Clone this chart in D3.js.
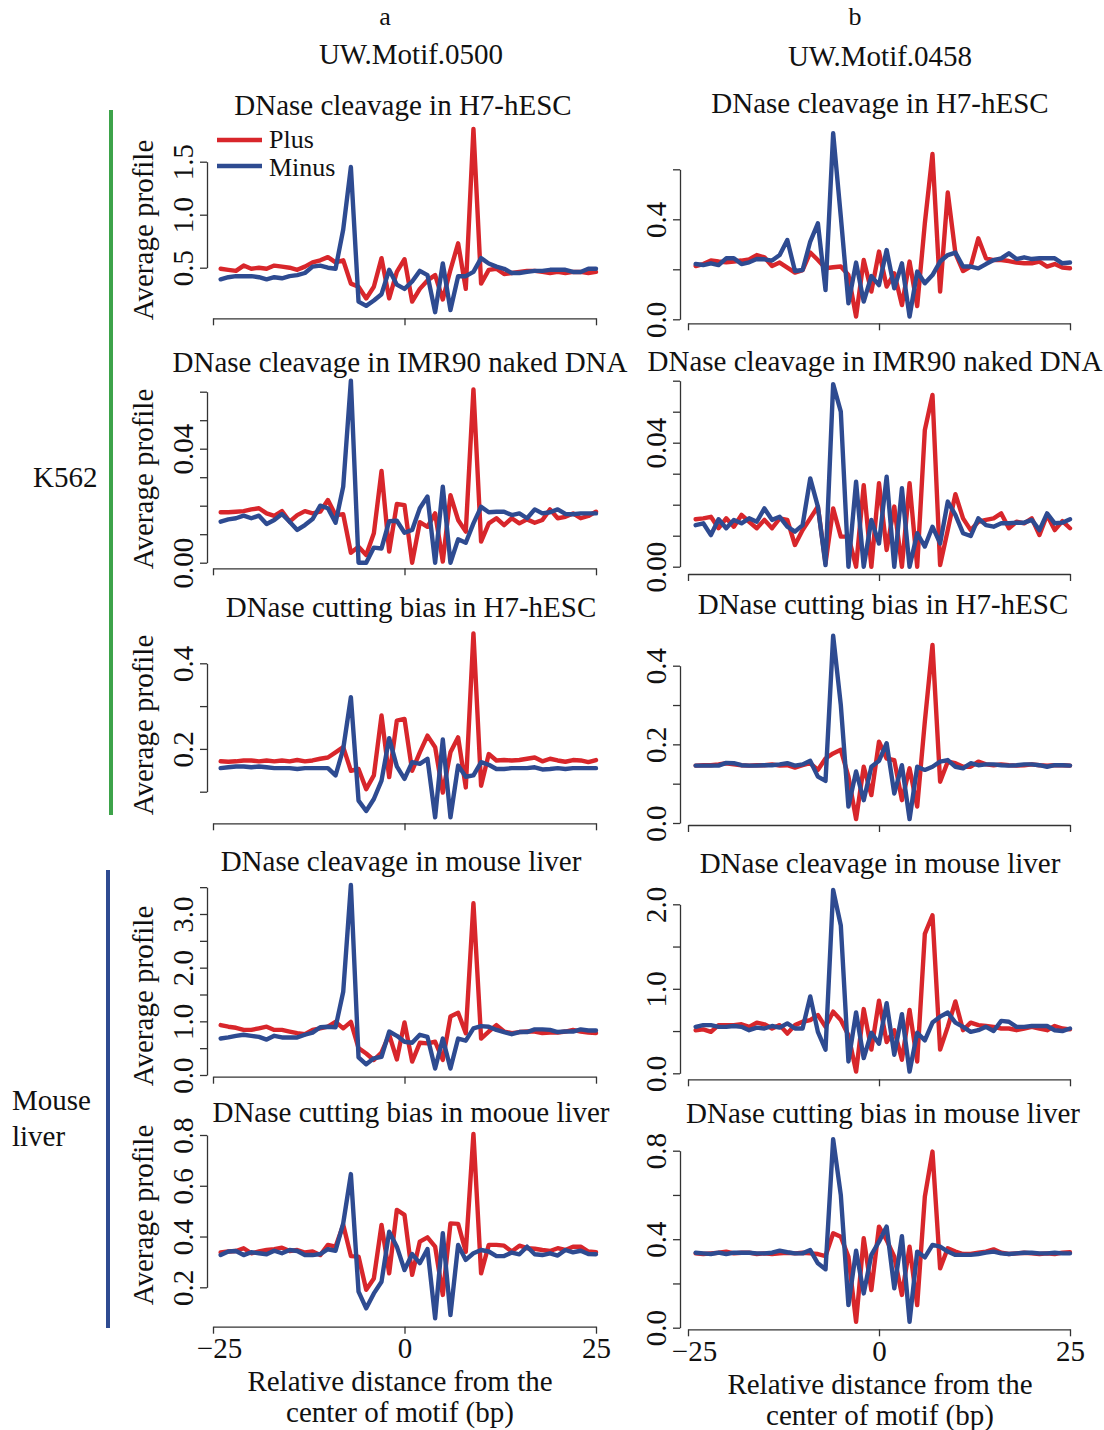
<!DOCTYPE html>
<html><head><meta charset="utf-8">
<script src="https://cdn.jsdelivr.net/npm/d3@7"></script>
<style>body{margin:0;background:#fff}svg text{font-family:"Liberation Serif","Times New Roman",serif;fill:#111}</style>
</head><body><svg id="c" width="1104" height="1430"></svg>
<script>
// x positions (bp from motif centre)
const positions = [-24,-23,-22,-21,-20,-19,-18,-17,-16,-15,-14,-13,-12,-11,-10,-9,-8,-7,-6,-5,-4,-3,-2,-1,0,1,2,3,4,5,6,7,8,9,10,11,12,13,14,15,16,17,18,19,20,21,22,23,24,25];

// Column a (UW.Motif.0500)
const plusA1 = [0.49,0.48,0.47,0.52,0.49,0.50,0.49,0.52,0.51,0.50,0.48,0.51,0.55,0.57,0.60,0.55,0.57,0.35,0.32,0.21,0.32,0.59,0.21,0.46,0.58,0.18,0.30,0.38,0.43,0.20,0.48,0.73,0.30,1.81,0.35,0.48,0.49,0.44,0.45,0.46,0.47,0.47,0.46,0.45,0.46,0.45,0.46,0.46,0.45,0.46];
const minusA1 = [0.39,0.41,0.42,0.42,0.42,0.41,0.39,0.41,0.40,0.42,0.43,0.45,0.51,0.52,0.50,0.49,0.86,1.45,0.18,0.14,0.19,0.25,0.48,0.34,0.30,0.37,0.47,0.43,0.08,0.54,0.10,0.42,0.42,0.46,0.59,0.54,0.51,0.49,0.45,0.45,0.46,0.47,0.47,0.48,0.48,0.48,0.46,0.46,0.49,0.49];
const plusA2 = [0.0177,0.0177,0.0179,0.0181,0.0187,0.0191,0.0173,0.0164,0.0181,0.0144,0.0167,0.0181,0.0173,0.0179,0.0220,0.0167,0.0170,0.0035,0.0056,0.0027,0.0103,0.0322,0.0039,0.0206,0.0202,0.0000,0.0142,0.0126,0.0173,0.0004,0.0237,0.0150,0.0109,0.0608,0.0074,0.0138,0.0156,0.0132,0.0156,0.0138,0.0152,0.0140,0.0150,0.0187,0.0156,0.0161,0.0173,0.0156,0.0164,0.0179];
const minusA2 = [0.0144,0.0152,0.0156,0.0165,0.0156,0.0165,0.0136,0.0150,0.0171,0.0144,0.0115,0.0132,0.0153,0.0200,0.0191,0.0140,0.0267,0.0639,0.0000,0.0000,0.0053,0.0050,0.0146,0.0147,0.0105,0.0115,0.0191,0.0232,0.0000,0.0267,0.0000,0.0082,0.0070,0.0138,0.0196,0.0177,0.0179,0.0179,0.0167,0.0173,0.0156,0.0187,0.0173,0.0177,0.0187,0.0171,0.0170,0.0173,0.0173,0.0173];
const plusA3 = [0.171,0.170,0.171,0.173,0.173,0.171,0.173,0.171,0.173,0.171,0.174,0.171,0.173,0.177,0.180,0.192,0.204,0.149,0.153,0.106,0.138,0.278,0.134,0.266,0.270,0.149,0.192,0.231,0.204,0.098,0.192,0.227,0.110,0.470,0.114,0.188,0.173,0.174,0.173,0.174,0.177,0.180,0.171,0.177,0.173,0.170,0.174,0.173,0.169,0.174];
const minusA3 = [0.155,0.157,0.159,0.159,0.157,0.159,0.157,0.155,0.155,0.155,0.153,0.155,0.155,0.155,0.155,0.138,0.200,0.321,0.079,0.055,0.083,0.126,0.225,0.159,0.130,0.169,0.165,0.177,0.040,0.222,0.040,0.161,0.135,0.138,0.169,0.163,0.153,0.153,0.155,0.155,0.155,0.157,0.152,0.153,0.155,0.153,0.155,0.155,0.155,0.155];
const plusA4 = [0.93,0.90,0.88,0.84,0.84,0.87,0.90,0.84,0.84,0.81,0.78,0.76,0.84,0.87,0.90,0.99,0.87,0.99,0.50,0.40,0.28,0.42,0.75,0.29,0.98,0.25,0.60,0.59,0.62,0.28,1.09,1.16,0.78,3.20,0.68,0.81,0.93,0.81,0.78,0.80,0.81,0.81,0.78,0.79,0.79,0.81,0.84,0.81,0.79,0.78];
const minusA4 = [0.68,0.70,0.73,0.75,0.73,0.71,0.66,0.73,0.70,0.70,0.70,0.75,0.79,0.89,0.90,0.89,1.55,3.54,0.33,0.20,0.31,0.34,0.81,0.73,0.62,0.60,0.75,0.71,0.12,0.68,0.12,0.68,0.64,0.87,0.91,0.90,0.84,0.80,0.76,0.80,0.80,0.85,0.85,0.84,0.80,0.81,0.81,0.85,0.83,0.83];
const plusA5 = [0.337,0.341,0.343,0.354,0.334,0.341,0.347,0.350,0.356,0.343,0.347,0.337,0.341,0.327,0.367,0.360,0.446,0.323,0.321,0.190,0.235,0.446,0.255,0.505,0.485,0.249,0.380,0.397,0.360,0.170,0.452,0.450,0.340,0.804,0.255,0.367,0.367,0.364,0.341,0.364,0.354,0.352,0.347,0.343,0.354,0.347,0.360,0.360,0.341,0.338];
const minusA5 = [0.327,0.341,0.343,0.327,0.338,0.334,0.330,0.344,0.334,0.347,0.343,0.327,0.327,0.331,0.350,0.344,0.452,0.646,0.183,0.117,0.176,0.222,0.419,0.360,0.268,0.331,0.295,0.351,0.078,0.413,0.091,0.367,0.308,0.334,0.347,0.341,0.323,0.323,0.337,0.330,0.360,0.330,0.327,0.334,0.325,0.347,0.338,0.344,0.331,0.330];

// Column b (UW.Motif.0458)
const plusB1 = [0.213,0.221,0.235,0.231,0.228,0.231,0.235,0.240,0.257,0.248,0.213,0.227,0.207,0.187,0.197,0.267,0.237,0.204,0.208,0.211,0.177,0.011,0.237,0.111,0.271,0.131,0.184,0.057,0.231,0.053,0.384,0.661,0.111,0.507,0.264,0.193,0.211,0.324,0.244,0.237,0.237,0.233,0.227,0.224,0.224,0.231,0.211,0.221,0.207,0.204];
const minusB1 = [0.221,0.217,0.224,0.217,0.244,0.244,0.221,0.228,0.241,0.240,0.235,0.257,0.317,0.193,0.197,0.311,0.384,0.117,0.744,0.411,0.064,0.227,0.071,0.173,0.137,0.277,0.124,0.224,0.011,0.191,0.144,0.177,0.231,0.257,0.267,0.211,0.211,0.204,0.221,0.237,0.244,0.264,0.241,0.248,0.241,0.244,0.244,0.244,0.224,0.227];
const plusB2 = [0.0153,0.0156,0.0161,0.0124,0.0156,0.0129,0.0167,0.0145,0.0124,0.0151,0.0124,0.0156,0.0151,0.0070,0.0118,0.0156,0.0194,0.0011,0.0188,0.0097,0.0097,0.0000,0.0263,0.0000,0.0269,0.0054,0.0194,0.0000,0.0269,0.0000,0.0441,0.0554,0.0005,0.0118,0.0234,0.0156,0.0118,0.0145,0.0151,0.0156,0.0172,0.0124,0.0145,0.0140,0.0156,0.0102,0.0167,0.0118,0.0147,0.0124];
const minusB2 = [0.0134,0.0140,0.0102,0.0153,0.0124,0.0151,0.0140,0.0156,0.0145,0.0188,0.0151,0.0161,0.0129,0.0113,0.0134,0.0285,0.0194,0.0005,0.0589,0.0500,0.0000,0.0274,0.0000,0.0151,0.0075,0.0290,0.0000,0.0253,0.0000,0.0108,0.0065,0.0129,0.0075,0.0210,0.0167,0.0108,0.0099,0.0156,0.0134,0.0129,0.0140,0.0140,0.0142,0.0142,0.0151,0.0118,0.0172,0.0140,0.0142,0.0153];
const plusB3 = [0.146,0.147,0.147,0.149,0.152,0.149,0.147,0.146,0.147,0.147,0.149,0.146,0.147,0.141,0.147,0.152,0.135,0.164,0.177,0.186,0.118,0.010,0.143,0.071,0.207,0.164,0.160,0.058,0.139,0.042,0.258,0.453,0.105,0.156,0.152,0.143,0.143,0.156,0.149,0.147,0.149,0.147,0.146,0.147,0.149,0.147,0.146,0.147,0.147,0.146];
const minusB3 = [0.146,0.146,0.146,0.146,0.153,0.152,0.147,0.146,0.146,0.147,0.147,0.149,0.152,0.146,0.149,0.158,0.118,0.107,0.476,0.300,0.042,0.131,0.058,0.143,0.158,0.203,0.075,0.147,0.010,0.143,0.135,0.143,0.156,0.160,0.143,0.139,0.152,0.147,0.149,0.149,0.147,0.146,0.147,0.149,0.149,0.147,0.143,0.147,0.147,0.146];
const plusB4 = [0.51,0.52,0.49,0.57,0.57,0.57,0.58,0.55,0.60,0.58,0.53,0.57,0.47,0.57,0.61,0.63,0.69,0.55,0.73,0.63,0.45,0.02,0.76,0.28,0.86,0.37,0.51,0.16,0.75,0.14,1.65,1.87,0.28,0.55,0.85,0.51,0.60,0.57,0.56,0.55,0.53,0.53,0.51,0.53,0.55,0.53,0.51,0.56,0.53,0.52];
const minusB4 = [0.55,0.57,0.57,0.55,0.55,0.56,0.55,0.51,0.54,0.53,0.56,0.54,0.59,0.53,0.53,0.91,0.49,0.28,2.17,1.75,0.14,0.72,0.18,0.48,0.35,0.83,0.22,0.70,0.02,0.48,0.39,0.60,0.67,0.72,0.60,0.55,0.49,0.51,0.55,0.50,0.62,0.61,0.55,0.55,0.56,0.56,0.56,0.51,0.50,0.53];
const plusB5 = [0.336,0.333,0.336,0.339,0.344,0.336,0.339,0.339,0.333,0.336,0.333,0.336,0.339,0.336,0.339,0.336,0.333,0.324,0.427,0.411,0.321,0.027,0.404,0.170,0.457,0.396,0.321,0.148,0.366,0.102,0.592,0.796,0.268,0.359,0.344,0.333,0.333,0.339,0.344,0.354,0.339,0.333,0.336,0.339,0.336,0.333,0.336,0.333,0.339,0.341];
const minusB5 = [0.339,0.336,0.333,0.339,0.333,0.339,0.339,0.339,0.336,0.336,0.339,0.348,0.341,0.336,0.336,0.351,0.291,0.264,0.852,0.600,0.102,0.348,0.155,0.329,0.389,0.457,0.178,0.414,0.027,0.344,0.318,0.374,0.366,0.344,0.329,0.329,0.329,0.333,0.339,0.344,0.336,0.333,0.336,0.339,0.339,0.336,0.336,0.339,0.336,0.336];

// Titles and tick labels
const rowTitlesA = ["DNase cleavage in H7-hESC","DNase cleavage in IMR90 naked DNA","DNase cutting bias in H7-hESC","DNase cleavage in mouse liver","DNase cutting bias in mooue liver"];
const rowTitlesB = ["DNase cleavage in H7-hESC","DNase cleavage in IMR90 naked DNA","DNase cutting bias in H7-hESC","DNase cleavage in mouse liver","DNase cutting bias in mouse liver"];
const columnLetters = ["a","b"];
const motifNames = ["UW.Motif.0500","UW.Motif.0458"];
const seriesNames = ["Plus","Minus"];
const xTicks = [-25,0,25];
const xTickLabels = ["\u221225","0","25"];
const yTicksA1 = [0.5,1.0,1.5], yLabelsA1 = ["0.5","1.0","1.5"];
const yTicksA2 = [0,0.01,0.02,0.03,0.04,0.05,0.06], yLabelsA2 = ["0.00","","","","0.04","",""];
const yTicksA3 = [0.1,0.2,0.3,0.4], yLabelsA3 = ["","0.2","","0.4"];
const yTicksA4 = [0,0.5,1,1.5,2,2.5,3,3.5], yLabelsA4 = ["0.0","","1.0","","2.0","","3.0",""];
const yTicksA5 = [0.2,0.4,0.6,0.8], yLabelsA5 = ["0.2","0.4","0.6","0.8"];
const yTicksB1 = [0,0.2,0.4,0.6], yLabelsB1 = ["0.0","","0.4",""];
const yTicksB2 = [0,0.01,0.02,0.03,0.04,0.05,0.06], yLabelsB2 = ["0.00","","","","0.04","",""];
const yTicksB3 = [0,0.1,0.2,0.3,0.4], yLabelsB3 = ["0.0","","0.2","","0.4"];
const yTicksB4 = [0,0.5,1,1.5,2], yLabelsB4 = ["0.0","","1.0","","2.0"];
const yTicksB5 = [0,0.2,0.4,0.6,0.8], yLabelsB5 = ["0.0","","0.4","","0.8"];
const groupLabels = [["K562"],["Mouse","liver"]];
const xTitleLines = ["Relative distance from the","center of motif (bp)"];
const yTitle = "Average profile";

// ---------- layout ----------
const RED = "#d8262b", BLUE = "#2e4b91", FS = 29;
const svg = d3.select("#c");
const cols = [
  {x0:213, x1:596, axisX:207, titleX:400, letterX:385, motifX:411, xTitleY:1391},
  {x0:688, x1:1070, axisX:680, titleX:880, letterX:855, motifX:880, xTitleY:1394}
];
const panels = [
  {c:0,r:0,title:rowTitlesA[0],plus:plusA1,minus:minusA1,ref:[[0.5,267.7],[1.5,161.7]],axisY:318.3,ticks:yTicksA1,labels:yLabelsA1,titleX:403,titleY:115,ylabY:230},
  {c:0,r:1,title:rowTitlesA[1],plus:plusA2,minus:minusA2,ref:[[0,562.7],[0.06,391.7]],axisY:568.3,ticks:yTicksA2,labels:yLabelsA2,titleX:400,titleY:372,ylabY:479},
  {c:0,r:2,title:rowTitlesA[2],plus:plusA3,minus:minusA3,ref:[[0.1,791.7],[0.4,663.3]],axisY:823.3,ticks:yTicksA3,labels:yLabelsA3,titleX:411,titleY:617,ylabY:725},
  {c:0,r:3,title:rowTitlesA[3],plus:plusA4,minus:minusA4,ref:[[0,1075],[3,914]],axisY:1076.7,ticks:yTicksA4,labels:yLabelsA4,titleX:401,titleY:871,ylabY:996},
  {c:0,r:4,title:rowTitlesA[4],plus:plusA5,minus:minusA5,ref:[[0.2,1287.3],[0.8,1135]],axisY:1326.7,ticks:yTicksA5,labels:yLabelsA5,titleX:411,titleY:1122,ylabY:1215},
  {c:1,r:0,title:rowTitlesB[0],plus:plusB1,minus:minusB1,ref:[[0,319.3],[0.4,219.3]],axisY:323.3,ticks:yTicksB1,labels:yLabelsB1,titleX:880,titleY:113},
  {c:1,r:1,title:rowTitlesB[1],plus:plusB2,minus:minusB2,ref:[[0,566.7],[0.06,380.7]],axisY:574,ticks:yTicksB2,labels:yLabelsB2,titleX:875,titleY:371},
  {c:1,r:2,title:rowTitlesB[2],plus:plusB3,minus:minusB3,ref:[[0,823],[0.4,665.7]],axisY:825,ticks:yTicksB3,labels:yLabelsB3,titleX:883,titleY:614},
  {c:1,r:3,title:rowTitlesB[3],plus:plusB4,minus:minusB4,ref:[[0,1073.3],[2,904.3]],axisY:1079.3,ticks:yTicksB4,labels:yLabelsB4,titleX:880,titleY:873},
  {c:1,r:4,title:rowTitlesB[4],plus:plusB5,minus:minusB5,ref:[[0,1327.7],[0.8,1150.7]],axisY:1329.3,ticks:yTicksB5,labels:yLabelsB5,titleX:883,titleY:1123}
];

panels.forEach(p => {
  const col = cols[p.c];
  const x = d3.scaleLinear().domain([-25,25]).range([col.x0,col.x1]);
  const y = d3.scaleLinear().domain([p.ref[0][0],p.ref[1][0]]).range([p.ref[0][1],p.ref[1][1]]);
  const g = svg.append("g");

  // x axis
  const xa = d3.axisBottom(x).tickValues(xTicks).tickSize(7).tickSizeOuter(0).tickPadding(4)
    .tickFormat((d,i) => p.r === 4 ? xTickLabels[i] : "");
  g.append("g").attr("transform",`translate(0,${p.axisY})`).call(xa)
    .call(s => { s.selectAll("path,line").attr("stroke","#333").attr("stroke-width",1.3);
                 s.selectAll("text").style("font-size",FS+"px").attr("fill","#111").style("font-family","Liberation Serif")
                   .attr("dx",(d) => d < 0 ? 6 : 0); });

  // y axis (line spans first to last tick)
  const ya = d3.axisLeft(y.copy().domain([p.ticks[0],p.ticks[p.ticks.length-1]])
      .range([y(p.ticks[0]),y(p.ticks[p.ticks.length-1])]))
    .tickValues(p.ticks).tickSize(7).tickSizeOuter(0)
    .tickFormat((d,i) => p.labels[i]);
  g.append("g").attr("transform",`translate(${col.axisX},0)`).call(ya)
    .call(s => { s.selectAll("path,line").attr("stroke","#333").attr("stroke-width",1.3);
                 s.selectAll("text").attr("x",null).attr("dy",null).attr("text-anchor","middle")
                   .attr("transform","translate(-14,0) rotate(-90)")
                   .style("font-size",FS+"px").attr("fill","#111").style("font-family","Liberation Serif"); });

  // lines
  const line = d3.line().x((d,i) => x(positions[i])).y(d => y(d));
  [[p.plus,RED],[p.minus,BLUE]].forEach(([vals,colr]) => {
    g.append("path").datum(vals).attr("d",line).attr("fill","none")
      .attr("stroke",colr).attr("stroke-width",4.4).attr("stroke-linejoin","round").attr("stroke-linecap","round");
  });

  // title
  g.append("text").attr("x",p.titleX).attr("y",p.titleY).attr("text-anchor","middle")
    .style("font-size",FS+"px").text(p.title);

  // y title
  if (p.c === 0) {
    g.append("text").attr("transform",`translate(153,${p.ylabY}) rotate(-90)`).attr("text-anchor","middle")
      .style("font-size",FS+"px").text(yTitle);
  }

  // legend
  if (p.c === 0 && p.r === 0) {
    const lg = [[RED,140],[BLUE,166]];
    seriesNames.forEach((nm,i) => {
      g.append("line").attr("x1",217).attr("x2",262).attr("y1",lg[i][1]).attr("y2",lg[i][1])
        .attr("stroke",lg[i][0]).attr("stroke-width",4.4);
      g.append("text").attr("x",269).attr("y",lg[i][1] + 8 + i*2).style("font-size","26px").text(nm);
    });
  }
});

// column headers and x titles
cols.forEach((col,i) => {
  svg.append("text").attr("x",col.letterX).attr("y",25).attr("text-anchor","middle").style("font-size","26px").text(columnLetters[i]);
  svg.append("text").attr("x",col.motifX).attr("y",64 + i*2).attr("text-anchor","middle").style("font-size",FS+"px").text(motifNames[i]);
  xTitleLines.forEach((t,j) => {
    svg.append("text").attr("x",col.titleX).attr("y",col.xTitleY + j*31).attr("text-anchor","middle")
      .style("font-size",FS+"px").text(t);
  });
});

// group brackets and labels
svg.append("line").attr("x1",111).attr("x2",111).attr("y1",110).attr("y2",815).attr("stroke","#3da34a").attr("stroke-width",4);
svg.append("line").attr("x1",108).attr("x2",108).attr("y1",870).attr("y2",1328).attr("stroke","#2e4b91").attr("stroke-width",4);
svg.append("text").attr("x",33).attr("y",487).style("font-size",FS+"px").text(groupLabels[0][0]);
groupLabels[1].forEach((t,j) => svg.append("text").attr("x",12).attr("y",1110 + j*36).style("font-size",FS+"px").text(t));
</script>
</body></html>
